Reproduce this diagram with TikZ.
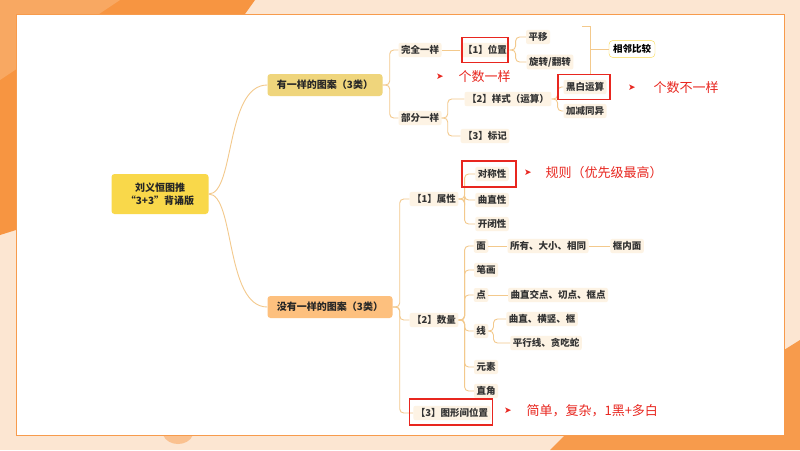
\documentclass[tikz,border=0pt]{standalone}
\usepackage{fontspec}
\newfontfamily\cjk{Noto Sans CJK SC}
\newfontfamily\dejavu{DejaVu Sans}
\newcommand{\cjkb}{\cjk\bfseries}
\usetikzlibrary{calc}
\definecolor{bgpeach}{HTML}{FCE6D2}
\definecolor{org}{HTML}{F5821F}
\definecolor{conncol}{HTML}{F3C98C}
\definecolor{cream}{HTML}{FDF3E4}
\definecolor{rootc}{HTML}{F9D84A}
\definecolor{ac}{HTML}{EFD57C}
\definecolor{bc}{HTML}{FDC07E}
\definecolor{redc}{HTML}{E8261F}
\tikzset{
  lbl/.style={fill=cream,rounded corners=2pt,inner sep=2.5pt,font=\cjkb\fontsize{9.5}{10}\selectfont,text=black!80},
  big/.style={rounded corners=3pt,inner sep=4pt,font=\cjkb\fontsize{10}{13}\selectfont,text=black!85,align=center},
  conn/.style={draw=conncol,line width=0.9pt,rounded corners=4pt},
  redbox/.style={draw=redc,line width=1.3pt},
  note/.style={text=redc,font=\cjk\fontsize{13}{14}\selectfont},
  arr/.style={text=redc,font=\dejavu\fontsize{9}{10}\selectfont}
}
\newcommand{\br}[3]{\path (#1.east) ++(#3,0) coordinate (tmp); \draw[conn] (#1.east) -- (tmp) |- (#2.west);}
\begin{document}
\begin{tikzpicture}[x=1pt,y=-1pt]
\useasboundingbox (0,0) rectangle (800,450);
% background
\fill[bgpeach] (0,0) rectangle (800,450);
\fill[org!85] (0,0) -- (255,0) -- (245,14) -- (16,14) -- (16,230) -- (0,235) -- cycle;
\fill[org!70] (0,0) -- (120,0) -- (0,80) -- cycle;
\fill[org!80] (550,450) -- (565,435) -- (784,435) -- (784,350) -- (800,340) -- (800,450) -- cycle;
\fill[org!50] (163,435) .. controls (168,447) and (188,447) .. (193,435) -- cycle;
\fill[white] (16,14) rectangle (784,435);
\draw[org!80,line width=0.8pt] (16,14) rectangle (784,435);
% main nodes
\node[big,fill=rootc,minimum width=97pt,minimum height=40pt] (root) at (160,194) {刘义恒图推\\“3+3”背诵版};
\node[big,fill=ac,minimum width=115pt,minimum height=22pt] (A) at (325,85) {有一样的图案（3类）};
\node[big,fill=bc,minimum width=125pt,minimum height=22pt] (B) at (330,307) {没有一样的图案（3类）};
% A branch
\node[lbl] (wq) at (420,50) {完全一样};
\node[lbl] (bf) at (420,118) {部分一样};
\node[lbl] (wz) at (485,50) {【1】位置};
\node[lbl] (py) at (538,37) {平移};
\node[lbl] (xz) at (550,62) {旋转/翻转};
\node[lbl] (ys) at (508,99) {【2】样式（运算）};
\node[lbl] (hb) at (585,87) {黑白运算};
\node[lbl] (jj) at (585,111) {加减同异};
\node[lbl] (bj) at (485,136) {【3】标记};
\node[draw=rootc,fill=white,rounded corners=4pt,inner sep=4pt,font=\cjkb\fontsize{9.5}{10}\selectfont] (xl) at (632,49) {相邻比较};
% B branch
\node[lbl] (sx) at (434,199) {【1】属性};
\node[lbl] (dc) at (492,174) {对称性};
\node[lbl] (qz) at (492,200) {曲直性};
\node[lbl] (kb) at (492,224) {开闭性};
\node[lbl] (sl) at (434,320) {【2】数量};
\node[lbl] (mian) at (481,246) {面};
\node[lbl] (syd) at (548,246) {所有、大小、相同};
\node[lbl] (knm) at (627,246) {框内面};
\node[lbl] (bh) at (486,270) {笔画};
\node[lbl] (dian) at (481,295) {点};
\node[lbl] (qzj) at (558,295) {曲直交点、切点、框点};
\node[lbl] (xian) at (481,331) {线};
\node[lbl] (qhk) at (542,319) {曲直、横竖、框};
\node[lbl] (pxt) at (546,343) {平行线、贪吃蛇};
\node[lbl] (ys2) at (486,367) {元素};
\node[lbl] (zj) at (486,391) {直角};
\node[lbl] (txj) at (452,413) {【3】图形间位置};
% connectors
\draw[conn] (root.east) .. controls (235,194) and (225,85) .. (A.west);
\draw[conn] (root.east) .. controls (235,194) and (225,307) .. (B.west);
\br{A}{wq}{7} \br{A}{bf}{7}
\draw[conn] (wq) -- (wz);
\br{wz}{py}{6} \br{wz}{xz}{6}
\br{bf}{ys}{6} \br{bf}{bj}{6}
\br{ys}{hb}{6} \br{ys}{jj}{6}
\br{B}{sx}{7} \br{B}{sl}{7} \br{B}{txj}{7}
\br{sx}{dc}{6} \br{sx}{qz}{6} \br{sx}{kb}{6}
\foreach \c in {mian,bh,dian,xian,ys2,zj} {\br{sl}{\c}{6}}
\draw[conn] (mian) -- (syd); \draw[conn] (syd) -- (knm);
\draw[conn] (dian) -- (qzj);
\br{xian}{qhk}{5} \br{xian}{pxt}{5}
% bracket
\coordinate (bb) at (590,75);
\draw[conn,rounded corners=0pt] (582,26) -- (590,26) -- (bb);
\draw[conn,rounded corners=0pt] (590,49) -- (xl.west);
% red boxes
\node[redbox,minimum width=46pt,minimum height=25pt] (rb1) at (485,50) {};
\node[redbox,minimum width=52pt,minimum height=25pt] (rb2) at (584,87) {};
\node[redbox,minimum width=54pt,minimum height=26pt] (rb3) at (489,174) {};
\node[redbox,minimum width=83pt,minimum height=26pt] (rb4) at (451,412) {};
% notes
\node[arr] (a1) at (440,77) {➤};
\node[note,anchor=west] (n1) at (455,77) {个数一样};
\node[arr] (a2) at (632,88) {➤};
\node[note,anchor=west] (n2) at (650,88) {个数不一样};
\node[arr] (a3) at (528,173) {➤};
\node[note,anchor=west] (n3) at (542,173) {规则（优先级最高）};
\node[arr] (a4) at (508,411) {➤};
\node[note,anchor=west] (n4) at (523,411) {简单，复杂，1黑+多白};
\end{tikzpicture}
\end{document}
